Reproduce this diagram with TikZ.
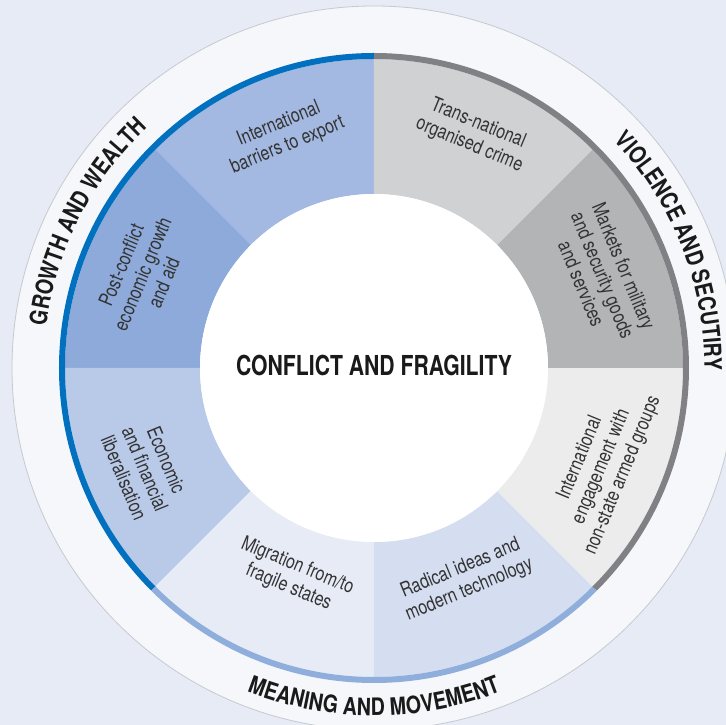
\documentclass[tikz,border=0pt]{standalone}
\usepackage{fontspec}
\usetikzlibrary{decorations.text}
\newfontfamily\condfont{TeX Gyre Heros}[FakeStretch=0.80]
\newfontfamily\condboldfont{TeX Gyre Heros}[FakeStretch=0.77]
\newfontfamily\headboldfont{TeX Gyre Heros}[FakeStretch=0.82]

\definecolor{bgc}{HTML}{E6EBF5}
\definecolor{ringc}{HTML}{F5F7FB}
\definecolor{rimc}{HTML}{C6C9CF}
\definecolor{gwarc}{HTML}{0070BF}
\definecolor{mmarc}{HTML}{8FAEDC}
\definecolor{vsarc}{HTML}{808085}
\definecolor{segIB}{HTML}{A3B9E1}
\definecolor{segPC}{HTML}{8DAADA}
\definecolor{segEC}{HTML}{B9CAE9}
\definecolor{segMG}{HTML}{E6EBF6}
\definecolor{segRT}{HTML}{D5DEF1}
\definecolor{segIE}{HTML}{ECECEC}
\definecolor{segMK}{HTML}{B3B4B6}
\definecolor{segTN}{HTML}{D0D1D3}
\definecolor{labeltext}{HTML}{333333}
\definecolor{headtext}{HTML}{1A1A1A}

\newcommand{\outerfont}{\fontsize{24}{26}\selectfont\headboldfont\bfseries\color{headtext}}

\tikzset{
  seglabel/.style={align=center, inner sep=0pt, text=labeltext,
    font=\fontsize{20}{23}\selectfont\condfont},
  titlelabel/.style={inner sep=0pt, text=headtext,
    font=\fontsize{27.5}{30}\selectfont\condboldfont\bfseries},
  arcline/.style={line width=6pt},
  curvedtext/.style={decorate, decoration={text along path, text align=center, text={|\outerfont|#1}}}
}

\begin{document}
\begin{tikzpicture}[x=1pt, y=1pt]
  % page and background
  \useasboundingbox (-374,-357) rectangle (352,368);
  \fill[bgc] (-374,-357) rectangle (352,368);

  % outer pale disc
  \fill[ringc] (0,0) circle[radius=362];
  \draw[rimc, line width=0.8pt] (0,0) circle[radius=362];

  % eight ring segments
  \foreach \a/\c in {90/segIB,135/segPC,180/segEC,225/segMG,270/segRT,315/segIE,0/segMK,45/segTN}{
    \fill[\c] (\a:174) arc[start angle=\a, end angle=\a+45, radius=174]
      -- (\a+45:309) arc[start angle=\a+45, end angle=\a, radius=309] -- cycle;
  }

  % coloured group arcs
  \draw[arcline, gwarc] (90:312) arc[start angle=90, end angle=225, radius=312];
  \draw[arcline, mmarc] (225:312) arc[start angle=225, end angle=315, radius=312];
  \draw[arcline, vsarc] (-45:312) arc[start angle=-45, end angle=90, radius=312];

  % centre disc
  \fill[white] (0,0) circle[radius=174];
  \node[titlelabel] (title) at (0,3) {CONFLICT AND FRAGILITY};

  % segment labels
  \node[seglabel, rotate=22.5]  (ib) at (111.3:250) {International\\barriers to export};
  \node[seglabel, rotate=-22.5] (tn) at (66.9:254)  {Trans-national\\organised crime};
  \node[seglabel, rotate=-67.5] (mk) at (22.1:247)  {Markets for military\\and security goods\\and services};
  \node[seglabel, rotate=67.5]  (ie) at (-23.5:248) {International\\engagement with\\non-state armed groups};
  \node[seglabel, rotate=22.5]  (rt) at (-66.7:230) {Radical ideas and\\modern technology};
  \node[seglabel, rotate=-22.5] (mg) at (248.8:224) {Migration from/to\\fragile states};
  \node[seglabel, rotate=-67.5] (ec) at (203.8:250) {Economic\\and financial\\liberalisation};
  \node[seglabel, rotate=67.5]  (pc) at (157.9:250) {Post-conflict\\economic growth\\and aid};

  % curved group headings
  \path[curvedtext={GROWTH AND WEALTH}] (193:330.5) arc[start angle=193, end angle=113, radius=330.5];
  \path[curvedtext={VIOLENCE AND SECUTIRY}] (61.5:330.5) arc[start angle=61.5, end angle=-18.5, radius=330.5];
  \path[curvedtext={MEANING AND MOVEMENT}] (230:347.5) arc[start angle=230, end angle=310, radius=347.5];
\end{tikzpicture}
\end{document}
